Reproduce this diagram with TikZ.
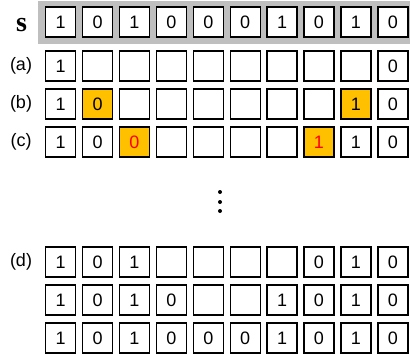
\documentclass[tikz,border=0pt]{standalone}
\usepackage{fontspec}
\setmainfont{Liberation Sans}
\newfontfamily\sfont{Liberation Serif}
\definecolor{hitorange}{HTML}{FFC000}
\definecolor{bandgray}{HTML}{BFBFBF}
\begin{document}
\begin{tikzpicture}[
  x=1pt, y=-1pt,
  cell/.style={draw, line width=1.4pt, minimum width=30pt, minimum height=30pt,
               inner sep=0pt, font=\fontsize{18}{20}\selectfont},
  hit/.style={cell, fill=hitorange},
  redhit/.style={hit, text=red},
  rowlabel/.style={font=\fontsize{18}{20}\selectfont}
]
\useasboundingbox (0,0) rectangle (410,354);
\fill[bandgray] (38,1) rectangle (410,44);
% sequence s
\node[font=\sfont\bfseries\fontsize{28}{30}\selectfont] (lbl-s) at (21.5,25) {s};
\foreach \v [count=\i] in {1,0,1,0,0,0,1,0,1,0}
  \node[cell, fill=white] (s-\i) at ({60.7+36.9*(\i-1)},22) {\v};
% (a)
\node[rowlabel] (lbl-a) at (21,66) {(a)};
\foreach \v [count=\i] in {1,{},{},{},{},{},{},{},{},0}
  \node[cell] (a-\i) at ({60.7+36.9*(\i-1)},66) {\v};
% (b)
\node[rowlabel] (lbl-b) at (21,104) {(b)};
\foreach \v/\st [count=\i] in {1/cell,0/hit,{}/cell,{}/cell,{}/cell,{}/cell,{}/cell,{}/cell,1/hit,0/cell}
  \node[\st] (b-\i) at ({60.7+36.9*(\i-1)},104) {\v};
% (c)
\node[rowlabel] (lbl-c) at (21,142) {(c)};
\foreach \v/\st [count=\i] in {1/cell,0/cell,0/redhit,{}/cell,{}/cell,{}/cell,{}/cell,1/redhit,1/cell,0/cell}
  \node[\st] (c-\i) at ({60.7+36.9*(\i-1)},142) {\v};
% dots
\foreach \y in {192,202,211}
  \fill (220,\y) circle (2pt);
% (d)
\node[rowlabel] (lbl-d) at (21,262) {(d)};
\foreach \v [count=\i] in {1,0,1,{},{},{},{},0,1,0}
  \node[cell] (d-\i) at ({60.7+36.9*(\i-1)},262) {\v};
\foreach \v [count=\i] in {1,0,1,0,{},{},1,0,1,0}
  \node[cell] (e-\i) at ({60.7+36.9*(\i-1)},300) {\v};
\foreach \v [count=\i] in {1,0,1,0,0,0,1,0,1,0}
  \node[cell] (f-\i) at ({60.7+36.9*(\i-1)},338) {\v};
\end{tikzpicture}
\end{document}
